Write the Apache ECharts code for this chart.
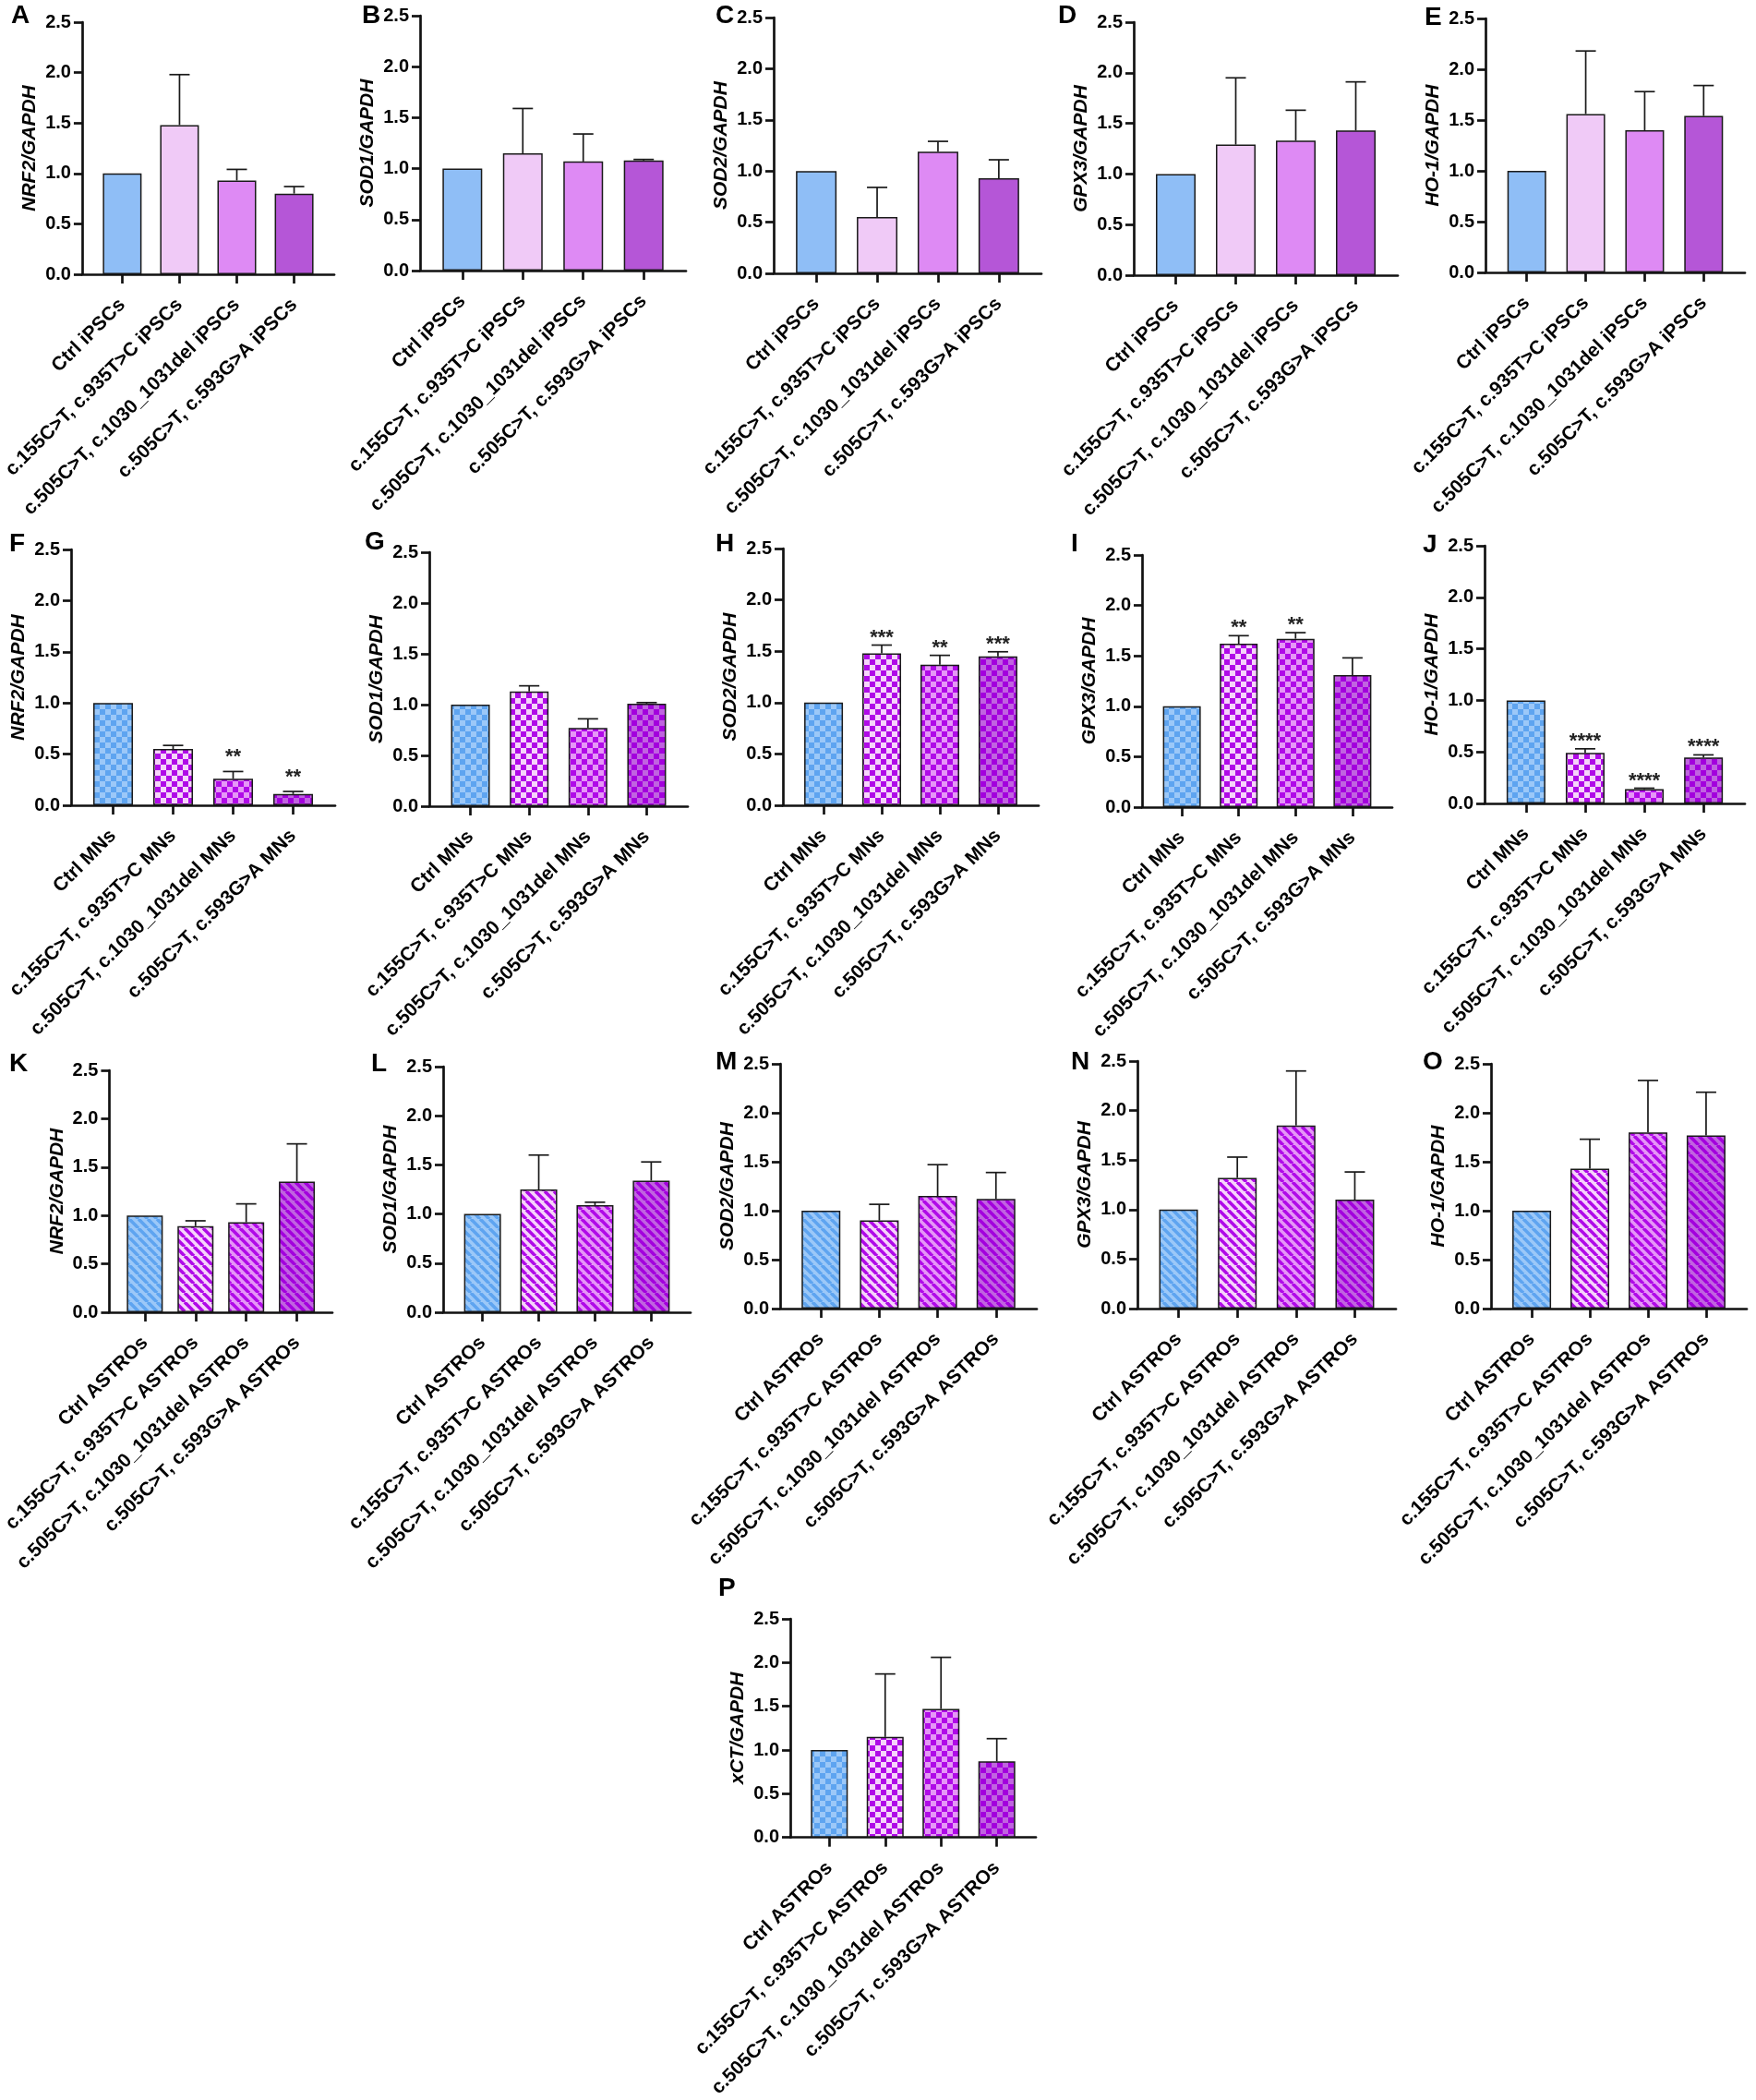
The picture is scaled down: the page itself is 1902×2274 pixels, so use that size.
<!DOCTYPE html>
<html>
<head>
<meta charset="utf-8">
<script src="https://cdn.jsdelivr.net/npm/echarts@6/dist/echarts.min.js"></script>
<style>
  html, body { margin: 0; padding: 0; background: #fff; }
  #chart { width: 1902px; height: 2274px; }
</style>
</head>
<body>
<div id="chart"></div>
<script>
// categories
const catIPSC = ["Ctrl iPSCs", "c.155C>T, c.935T>C iPSCs", "c.505C>T, c.1030_1031del iPSCs", "c.505C>T, c.593G>A iPSCs"];
const catMN = ["Ctrl MNs", "c.155C>T, c.935T>C MNs", "c.505C>T, c.1030_1031del MNs", "c.505C>T, c.593G>A MNs"];
const catASTRO = ["Ctrl ASTROs", "c.155C>T, c.935T>C ASTROs", "c.505C>T, c.1030_1031del ASTROs", "c.505C>T, c.593G>A ASTROs"];

// iPSCs
const meanA = [1.0, 1.48, 0.93, 0.80];  const errA = [0, 0.50, 0.11, 0.07];
const meanB = [1.0, 1.15, 1.07, 1.08];  const errB = [0, 0.44, 0.27, 0.01];
const meanC = [1.0, 0.55, 1.19, 0.93];  const errC = [0, 0.29, 0.10, 0.18];
const meanD = [1.0, 1.29, 1.33, 1.43];  const errD = [0, 0.66, 0.30, 0.48];
const meanE = [1.0, 1.56, 1.40, 1.54];  const errE = [0, 0.62, 0.38, 0.30];
// MNs
const meanF = [1.0, 0.55, 0.26, 0.11];  const errF = [0, 0.035, 0.07, 0.025];
const meanG = [1.0, 1.13, 0.77, 1.01];  const errG = [0, 0.055, 0.09, 0.01];
const meanH = [1.0, 1.48, 1.37, 1.45];  const errH = [0, 0.08, 0.09, 0.045];
const meanI = [1.0, 1.62, 1.67, 1.31];  const errI = [0, 0.08, 0.06, 0.17];
const meanJ = [1.0, 0.49, 0.14, 0.445]; const errJ = [0, 0.04, 0.008, 0.026];
const starsF = ["", "", "**", "**"];
const starsH = ["", "***", "**", "***"];
const starsI = ["", "**", "**", ""];
const starsJ = ["", "****", "****", "****"];
// ASTROs
const meanK = [1.0, 0.89, 0.93, 1.35];  const errK = [0, 0.055, 0.19, 0.39];
const meanL = [1.0, 1.25, 1.09, 1.34];  const errL = [0, 0.35, 0.03, 0.19];
const meanM = [1.0, 0.90, 1.15, 1.12];  const errM = [0, 0.165, 0.32, 0.27];
const meanN = [1.0, 1.32, 1.85, 1.10];  const errN = [0, 0.21, 0.55, 0.28];
const meanO = [1.0, 1.43, 1.80, 1.77];  const errO = [0, 0.30, 0.53, 0.44];
const meanP = [1.0, 1.15, 1.47, 0.87];  const errP = [0, 0.72, 0.59, 0.26];

const FONT = "'Liberation Sans', Arial, sans-serif";
const solidCols = ["#8FBEF6", "#F0CAF7", "#DE8AF4", "#B556D7"];
const patFg = ["#5EA4F0", "#B00AE8", "#B00AE8", "#A300DD"];
const patBg = ["#9CC8F8", "#F6D4FA", "#E597F6", "#C064E0"];

function checker(fg, bg, s) {
  const c = document.createElement("canvas");
  c.width = c.height = 2 * s;
  const g = c.getContext("2d");
  g.fillStyle = bg; g.fillRect(0, 0, 2 * s, 2 * s);
  g.fillStyle = fg; g.fillRect(0, 0, s, s); g.fillRect(s, s, s, s);
  return { image: c, repeat: "repeat" };
}
function stripes(fg, bg, s, lw) {
  const c = document.createElement("canvas");
  c.width = c.height = s;
  const g = c.getContext("2d");
  g.fillStyle = bg; g.fillRect(0, 0, s, s);
  g.strokeStyle = fg; g.lineWidth = lw;
  for (const o of [-s, 0, s]) {
    g.beginPath(); g.moveTo(o, 0); g.lineTo(o + s, s); g.stroke();
  }
  return { image: c, repeat: "repeat" };
}
function fillFor(kind, k) {
  if (kind === "check") return checker(patFg[k], patBg[k], 6);
  if (kind === "stripe") return stripes(patFg[k], patBg[k], 10, 3.6);
  return solidCols[k];
}

// layout of each panel (axis origin / size, letter position, star gap)
const panels = [
  { id: "A", name: "NRF2/GAPDH", cats: catIPSC, mean: meanA, err: errA, fill: "solid", x: 84, top: 24, bottom: 297, w: 278, lx: 12, ly: 3 },
  { id: "B", name: "SOD1/GAPDH", cats: catIPSC, mean: meanB, err: errB, fill: "solid", x: 455, top: 17, bottom: 293, w: 288, lx: 392, ly: 3 },
  { id: "C", name: "SOD2/GAPDH", cats: catIPSC, mean: meanC, err: errC, fill: "solid", x: 838, top: 19, bottom: 296, w: 290, lx: 775, ly: 3 },
  { id: "D", name: "GPX3/GAPDH", cats: catIPSC, mean: meanD, err: errD, fill: "solid", x: 1228, top: 24, bottom: 298, w: 286, lx: 1146, ly: 3 },
  { id: "E", name: "HO-1/GAPDH", cats: catIPSC, mean: meanE, err: errE, fill: "solid", x: 1609, top: 20, bottom: 295, w: 281, lx: 1543, ly: 5 },
  { id: "F", name: "NRF2/GAPDH", cats: catMN, mean: meanF, err: errF, stars: starsF, sg: 15, fill: "check", x: 77, top: 595, bottom: 872, w: 286, lx: 10, ly: 575 },
  { id: "G", name: "SOD1/GAPDH", cats: catMN, mean: meanG, err: errG, fill: "check", x: 465, top: 598, bottom: 873, w: 280, lx: 395, ly: 573 },
  { id: "H", name: "SOD2/GAPDH", cats: catMN, mean: meanH, err: errH, stars: starsH, fill: "check", x: 848, top: 594, bottom: 872, w: 277, lx: 775, ly: 575 },
  { id: "I", name: "GPX3/GAPDH", cats: catMN, mean: meanI, err: errI, stars: starsI, fill: "check", x: 1237, top: 601, bottom: 874, w: 271, lx: 1160, ly: 575 },
  { id: "J", name: "HO-1/GAPDH", cats: catMN, mean: meanJ, err: errJ, stars: starsJ, fill: "check", x: 1608, top: 591, bottom: 870, w: 282, lx: 1541, ly: 576 },
  { id: "K", name: "NRF2/GAPDH", cats: catASTRO, mean: meanK, err: errK, fill: "stripe", x: 97, top: 1159, bottom: 1421, w: 263, lx: 10, ly: 1138 },
  { id: "L", name: "SOD1/GAPDH", cats: catASTRO, mean: meanL, err: errL, fill: "stripe", x: 480, top: 1155, bottom: 1421, w: 268, lx: 402, ly: 1138 },
  { id: "M", name: "SOD2/GAPDH", cats: catASTRO, mean: meanM, err: errM, fill: "stripe", x: 845, top: 1152, bottom: 1417, w: 278, lx: 775, ly: 1136 },
  { id: "N", name: "GPX3/GAPDH", cats: catASTRO, mean: meanN, err: errN, fill: "stripe", x: 1232, top: 1149, bottom: 1417, w: 280, lx: 1160, ly: 1136 },
  { id: "O", name: "HO-1/GAPDH", cats: catASTRO, mean: meanO, err: errO, fill: "stripe", x: 1615, top: 1152, bottom: 1417, w: 277, lx: 1541, ly: 1136 },
  { id: "P", name: "xCT/GAPDH", cats: catASTRO, mean: meanP, err: errP, fill: "check", x: 856, top: 1753, bottom: 2017, w: 266, lx: 778, ly: 1706 },
];

const axisLine = { show: true, onZero: false, lineStyle: { color: "#111", width: 2.7 } };
const grid = [], xAxis = [], yAxis = [], series = [], title = [];

panels.forEach((p, i) => {
  grid.push({ left: p.x, top: p.top, width: p.w, height: p.bottom - p.top });
  title.push({
    text: p.id, left: p.lx, top: p.ly, padding: 0,
    textStyle: { fontSize: 28, fontWeight: "bold", fontFamily: FONT, color: "#000" },
  });
  xAxis.push({
    gridIndex: i, type: "value", min: -0.7, max: 3.7,
    axisLine,
    axisTick: { show: true, customValues: [0, 1, 2, 3], length: 10, lineStyle: { color: "#111", width: 2.7 } },
    axisLabel: {
      customValues: [0, 1, 2, 3], rotate: 45, margin: 30,
      formatter: (v) => p.cats[Math.round(v)],
      fontSize: 21, fontWeight: "bold", fontFamily: FONT, color: "#000",
    },
    splitLine: { show: false },
  });
  yAxis.push({
    gridIndex: i, type: "value", min: 0, max: 2.5, interval: 0.5,
    name: p.name, nameLocation: "middle", nameGap: 46,
    nameTextStyle: { fontSize: 21, fontStyle: "italic", fontWeight: "bold", fontFamily: FONT, color: "#000" },
    axisLine,
    axisTick: { show: true, length: 9, lineStyle: { color: "#111", width: 2.7 } },
    axisLabel: {
      margin: 12, formatter: (v) => v.toFixed(1),
      fontSize: 20, fontWeight: "bold", fontFamily: FONT, color: "#000",
    },
    splitLine: { show: false },
  });
  series.push({
    type: "bar", xAxisIndex: i, yAxisIndex: i, silent: true,
    barWidth: Math.round(0.15 * p.w),
    data: p.mean.map((v, k) => ({
      value: [k, v],
      itemStyle: { color: fillFor(p.fill, k), borderColor: "#1a1a1a", borderWidth: 1.5 },
    })),
  });
  const stars = p.stars || [];
  const gap = p.sg || 8;
  series.push({
    type: "custom", xAxisIndex: i, yAxisIndex: i, silent: true, z: 5,
    data: p.mean.map((v, k) => [k, v, p.err[k]]),
    renderItem: (params, api) => {
      const k = api.value(0), m = api.value(1), e = api.value(2);
      const base = api.coord([k, m]);
      const top = api.coord([k, m + e]);
      const ls = { stroke: "#1a1a1a", lineWidth: 1.7 };
      const children = [];
      if (e > 0) {
        children.push({ type: "line", shape: { x1: base[0], y1: base[1], x2: top[0], y2: top[1] }, style: ls });
        children.push({ type: "line", shape: { x1: top[0] - 11, y1: top[1], x2: top[0] + 11, y2: top[1] }, style: ls });
      }
      const s = stars[params.dataIndex];
      if (s) {
        children.push({
          type: "text", x: top[0], y: top[1] - gap,
          style: { text: s, align: "center", verticalAlign: "middle", font: "bold 22px " + FONT, fill: "#222" },
        });
      }
      return { type: "group", children };
    },
  });
});

const chart = echarts.init(document.getElementById("chart"));
chart.setOption({ animation: false, backgroundColor: "#fff", title, grid, xAxis, yAxis, series });
</script>
</body>
</html>
